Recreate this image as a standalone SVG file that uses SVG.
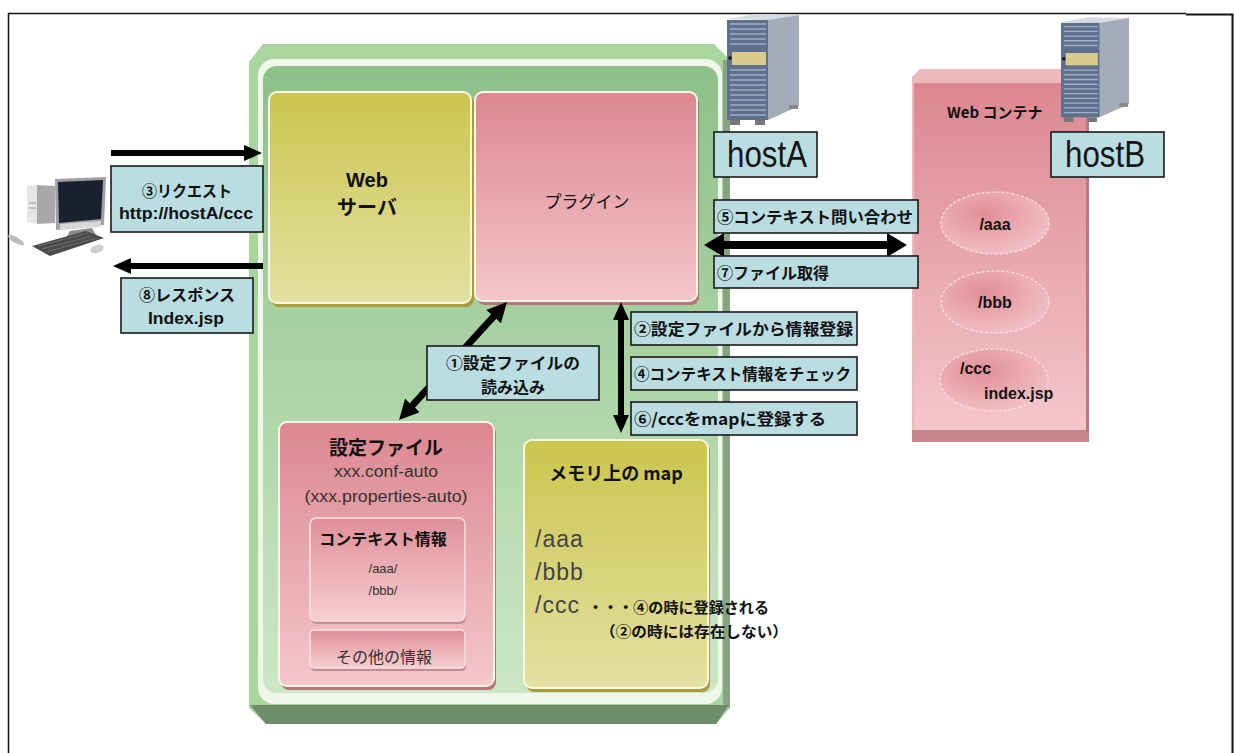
<svg xmlns="http://www.w3.org/2000/svg" width="1234" height="753" viewBox="0 0 1234 753">
<defs>
<style>
.jp{font-family:'Noto Sans CJK JP','Noto Sans',sans-serif;fill:#111}
.b{font-weight:bold}
.lat{font-family:'Liberation Sans',Arial,sans-serif;fill:#111}
.lbl{fill:#b9dde1;stroke:#1a1a1a;stroke-width:1.6}
.host{font-family:'Liberation Sans',Arial,sans-serif;font-size:36px;fill:#151515}
.arw{stroke:#000;fill:none}
.edge{stroke:#fbf6e4;stroke-width:2}
.mid{text-anchor:middle}
</style>
<linearGradient id="gYel" x1="0" y1="0" x2="0" y2="1"><stop offset="0" stop-color="#cbc64e"/><stop offset="1" stop-color="#e3e0a2"/></linearGradient>
<linearGradient id="gPink" x1="0" y1="0" x2="0" y2="1"><stop offset="0" stop-color="#dc8790"/><stop offset="1" stop-color="#f4c7cb"/></linearGradient>
<linearGradient id="gPinkIn" x1="0" y1="0" x2="0" y2="1"><stop offset="0" stop-color="#e08f98"/><stop offset="1" stop-color="#f6cfd2"/></linearGradient>
<linearGradient id="gGreen" x1="0" y1="0" x2="0" y2="1"><stop offset="0" stop-color="#8dc188"/><stop offset="1" stop-color="#cbe7c4"/></linearGradient>
<radialGradient id="gEll" cx="0.4" cy="0.35" r="0.7"><stop offset="0" stop-color="#e28e97"/><stop offset="1" stop-color="#f2c3c7"/></radialGradient>
<marker id="ah" markerUnits="userSpaceOnUse" viewBox="0 0 18 16" markerWidth="18" markerHeight="16" refX="3" refY="8" orient="auto-start-reverse"><path d="M0,0 L18,8 L0,16 z" fill="#000"/></marker>
<marker id="ahM" markerUnits="userSpaceOnUse" viewBox="0 0 20 20" markerWidth="20" markerHeight="20" refX="3" refY="10" orient="auto-start-reverse"><path d="M0,0 L20,10 L0,20 z" fill="#000"/></marker>
<marker id="ahL" markerUnits="userSpaceOnUse" viewBox="0 0 20 24" markerWidth="20" markerHeight="24" refX="3" refY="12" orient="auto-start-reverse"><path d="M0,0 L20,12 L0,24 z" fill="#000"/></marker>
<!-- tower server icon -->
<symbol id="server" viewBox="0 0 72 114" overflow="visible">
<polygon points="0,5 30,0 72,1 41,6" fill="#d6dae2"/>
<polygon points="41,6 72,1 72,92 41,106" fill="#a4acba"/>
<rect x="0" y="6" width="41" height="100" fill="#5f708e"/>
<path d="M3 10H39M3 15H39M3 20H39M3 25H39M3 30H39M3 56H39M3 61H39M3 66H39M3 71H39M3 76H39M3 81H39M3 86H39M3 91H39M3 96H39M3 101H39" stroke="#9fb0c8" stroke-width="1.4"/>
<rect x="5" y="38" width="34" height="13" fill="#d9cb8c"/>
<circle cx="3" cy="44" r="1.8" fill="#111"/>
<rect x="3" y="106" width="10" height="5" fill="#777"/>
<rect x="28" y="106" width="10" height="5" fill="#777"/>
<rect x="62" y="91" width="9" height="4" fill="#888"/>
</symbol>
</defs>

<rect width="1234" height="753" fill="#fff"/>
<!-- page frame -->
<path d="M8.5 753V13.5H1186" fill="none" stroke="#111" stroke-width="1.5"/>
<path d="M1186 14.5H1232.5V753" fill="none" stroke="#111" stroke-width="2"/>

<!-- hostA machine panel -->
<g id="hostA-panel">
<polygon points="263,44 714,44 730,60 730,708 716,724 266,724 249,708 249,62" fill="#a9d59f"/>
<polygon points="723,60 730,60 730,708 723,704" fill="#86a383"/>
<polygon points="250,705 729,705 716,724 266,724" fill="#6f8d6b"/>
<rect x="258" y="59" width="464" height="645" rx="16" fill="#eef7ea"/>
<rect x="263" y="66" width="455" height="627" rx="14" fill="url(#gGreen)"/>
</g>

<!-- Web server -->
<g id="web-server">
<rect x="271" y="95" width="203" height="212" rx="8" fill="#a99c3e"/>
<rect x="269" y="92" width="202" height="211" rx="8" fill="url(#gYel)" class="edge"/>
<text class="lat b mid" x="367" y="187" font-size="20">Web</text>
<text class="jp b mid" x="367" y="215" font-size="20">サーバ</text>
</g>

<!-- plugin -->
<g id="plugin">
<rect x="477" y="95" width="222" height="210" rx="8" fill="#b8747c"/>
<rect x="475" y="92" width="222" height="209" rx="8" fill="url(#gPink)" class="edge"/>
<text class="jp mid" x="587" y="208" font-size="17">プラグイン</text>
</g>

<!-- config file -->
<g id="config-file">
<rect x="281" y="425" width="215" height="265" rx="8" fill="#b8747c"/>
<rect x="279" y="422" width="215" height="264" rx="8" fill="url(#gPink)" class="edge"/>
<text class="jp b mid" x="386" y="455" font-size="19">設定ファイル</text>
<text class="lat mid" x="386" y="477" font-size="16" textLength="104" lengthAdjust="spacingAndGlyphs" style="fill:#333">xxx.conf-auto</text>
<text class="lat mid" x="386" y="502" font-size="17" textLength="163" lengthAdjust="spacingAndGlyphs" style="fill:#333">(xxx.properties-auto)</text>
<g id="context-info">
<rect x="311" y="520" width="155" height="104" rx="6" fill="#c98a90"/>
<rect x="310" y="518" width="155" height="103" rx="6" fill="url(#gPinkIn)" stroke="#f9e4e6" stroke-width="1.5"/>
<text class="jp b mid" x="383" y="545" font-size="16">コンテキスト情報</text>
<text class="lat mid" x="383" y="573" font-size="13" style="fill:#333">/aaa/</text>
<text class="lat mid" x="383" y="595" font-size="13" style="fill:#333">/bbb/</text>
</g>
<g id="other-info">
<rect x="311" y="632" width="155" height="39" rx="4" fill="#c98a90"/>
<rect x="310" y="630" width="155" height="38" rx="4" fill="url(#gPinkIn)" stroke="#f9e4e6" stroke-width="1.5"/>
<text class="jp mid" x="384" y="663" font-size="16" style="fill:#333">その他の情報</text>
</g>
</g>

<!-- in-memory map -->
<g id="memory-map">
<rect x="526" y="443" width="184" height="249" rx="8" fill="#a99c3e"/>
<rect x="524" y="440" width="184" height="248" rx="8" fill="url(#gYel)" class="edge"/>
<text class="jp b mid" x="616" y="480" font-size="18">メモリ上の map</text>
<text class="lat" x="535" y="547" font-size="23" letter-spacing="1" style="fill:#444">/aaa</text>
<text class="lat" x="535" y="580" font-size="23" letter-spacing="1" style="fill:#444">/bbb</text>
<text class="lat" x="535" y="613" font-size="23" letter-spacing="1" style="fill:#444">/ccc</text>
<text class="jp b" x="588" y="613" font-size="15" textLength="181" lengthAdjust="spacingAndGlyphs">・・・④の時に登録される</text>
<text class="jp b" x="600" y="637" font-size="15" textLength="188" lengthAdjust="spacingAndGlyphs">（②の時には存在しない）</text>
</g>

<!-- Web container on hostB -->
<g id="web-container">
<polygon points="920,69 1081,69 1089,77 1089,432 1080,442 921,442 912,432 912,77" fill="#eeb9bd"/>
<rect x="912" y="430" width="177" height="12" fill="#c5858b"/>
<rect x="914" y="83" width="173" height="347" fill="url(#gPink)"/>
<rect x="1086" y="80" width="3" height="352" fill="#b87a80"/>
<text class="jp b" x="947" y="118" font-size="15">Web コンテナ</text>
<g id="ctx-aaa">
<ellipse cx="995" cy="223" rx="54" ry="31" fill="url(#gEll)" stroke="#f8e2e4" stroke-width="1.2" stroke-dasharray="3 2"/>
<text class="lat b mid" x="995" y="230" font-size="16">/aaa</text>
</g>
<g id="ctx-bbb">
<ellipse cx="995" cy="302" rx="54" ry="31" fill="url(#gEll)" stroke="#f8e2e4" stroke-width="1.2" stroke-dasharray="3 2"/>
<text class="lat b mid" x="995" y="308" font-size="16">/bbb</text>
</g>
<g id="ctx-ccc">
<ellipse cx="994" cy="380" rx="54" ry="31" fill="url(#gEll)" stroke="#f8e2e4" stroke-width="1.2" stroke-dasharray="3 2"/>
<text class="lat b" x="960" y="374" font-size="16">/ccc</text>
<text class="lat b" x="984" y="399" font-size="16">index.jsp</text>
</g>
</g>

<!-- hosts -->
<g id="hostA">
<use href="#server" x="727" y="14" width="72" height="114"/>
<rect class="lbl" x="714" y="132" width="103" height="45"/>
<text class="host" x="727" y="167" textLength="80" lengthAdjust="spacingAndGlyphs">hostA</text>
</g>
<g id="hostB">
<use href="#server" x="1061" y="14" width="68" height="114"/>
<rect class="lbl" x="1051" y="132" width="113" height="45"/>
<text class="host" x="1065" y="167" textLength="80" lengthAdjust="spacingAndGlyphs">hostB</text>
</g>

<!-- client PC -->
<g id="client">
<polygon points="27,186 37,185 37,224 27,222" fill="#e6e6e6"/>
<polygon points="37,185 55,186 55,223 37,224" fill="#a9a9a9"/>
<path d="M29 203H36M29 208H36" stroke="#999" stroke-width="1"/>
<polygon points="55,179 106,177 104,225 56,230" fill="#a0a0a0"/>
<polygon points="58,182 103,180 101,219 59,223" fill="#1a2030"/>
<polygon points="60,224 101,221 100,227 60,230" fill="#d8d8d8"/>
<polygon points="70,231 92,228 96,235 66,238" fill="#8a8a8a"/>
<polygon points="32,246 86,231 104,238 50,256" fill="#4a4a4a"/>
<path d="M38 246L88 233M42 249L92 236M46 252L97 238" stroke="#777" stroke-width="0.8"/>
<ellipse cx="97" cy="249" rx="7" ry="4" fill="#cfcfcf" transform="rotate(-20 97 249)"/>
<ellipse cx="16" cy="240" rx="9" ry="3" fill="#bbb" transform="rotate(30 16 240)"/>
</g>

<!-- connectors -->
<g id="connectors">
<line class="arw" x1="111" y1="153" x2="247" y2="153" stroke-width="6" marker-end="url(#ah)"/>
<line class="arw" x1="263" y1="266" x2="128" y2="266" stroke-width="6" marker-end="url(#ah)"/>
<line class="arw" x1="410.5" y1="407.5" x2="495.5" y2="314.5" stroke-width="7" marker-start="url(#ahM)" marker-end="url(#ahM)"/>
<line class="arw" x1="621" y1="317" x2="621" y2="418" stroke-width="6" marker-start="url(#ah)" marker-end="url(#ah)"/>
<line class="arw" x1="721" y1="245" x2="890" y2="245" stroke-width="8" marker-start="url(#ahL)" marker-end="url(#ahL)"/>
</g>

<!-- connector labels -->
<g id="labels">
<g id="lbl-request">
<rect class="lbl" x="111" y="166" width="152" height="66"/>
<text class="jp b mid" x="187" y="197" font-size="16" textLength="90" lengthAdjust="spacingAndGlyphs">③リクエスト</text>
<text class="lat b mid" x="186" y="219" font-size="17" textLength="134" lengthAdjust="spacingAndGlyphs">http://hostA/ccc</text>
</g>
<g id="lbl-response">
<rect class="lbl" x="121" y="278" width="132" height="55"/>
<text class="jp b mid" x="187" y="301" font-size="16" textLength="96" lengthAdjust="spacingAndGlyphs">⑧レスポンス</text>
<text class="lat b mid" x="186" y="324" font-size="17" textLength="76" lengthAdjust="spacingAndGlyphs">Index.jsp</text>
</g>
<g id="lbl-read">
<rect class="lbl" x="427" y="346" width="172" height="54"/>
<text class="jp b mid" x="513" y="369" font-size="16" textLength="134" lengthAdjust="spacingAndGlyphs">①設定ファイルの</text>
<text class="jp b mid" x="513" y="393" font-size="16">読み込み</text>
</g>
<g id="lbl-register">
<rect class="lbl" x="631" y="312" width="226" height="33"/>
<text class="jp b" x="634" y="335" font-size="16" textLength="219" lengthAdjust="spacingAndGlyphs">②設定ファイルから情報登録</text>
</g>
<g id="lbl-check">
<rect class="lbl" x="631" y="357" width="226" height="33"/>
<text class="jp b" x="634" y="380" font-size="16" textLength="217" lengthAdjust="spacingAndGlyphs">④コンテキスト情報をチェック</text>
</g>
<g id="lbl-map">
<rect class="lbl" x="631" y="402" width="226" height="33"/>
<text class="jp b" x="634" y="425" font-size="16" textLength="192" lengthAdjust="spacingAndGlyphs">⑥/cccをmapに登録する</text>
</g>
<g id="lbl-query">
<rect class="lbl" x="714" y="200" width="204" height="33"/>
<text class="jp b" x="717" y="223" font-size="16" textLength="196" lengthAdjust="spacingAndGlyphs">⑤コンテキスト問い合わせ</text>
</g>
<g id="lbl-fetch">
<rect class="lbl" x="714" y="256" width="204" height="32"/>
<text class="jp b" x="717" y="279" font-size="16" textLength="112" lengthAdjust="spacingAndGlyphs">⑦ファイル取得</text>
</g>
</g>
</svg>
